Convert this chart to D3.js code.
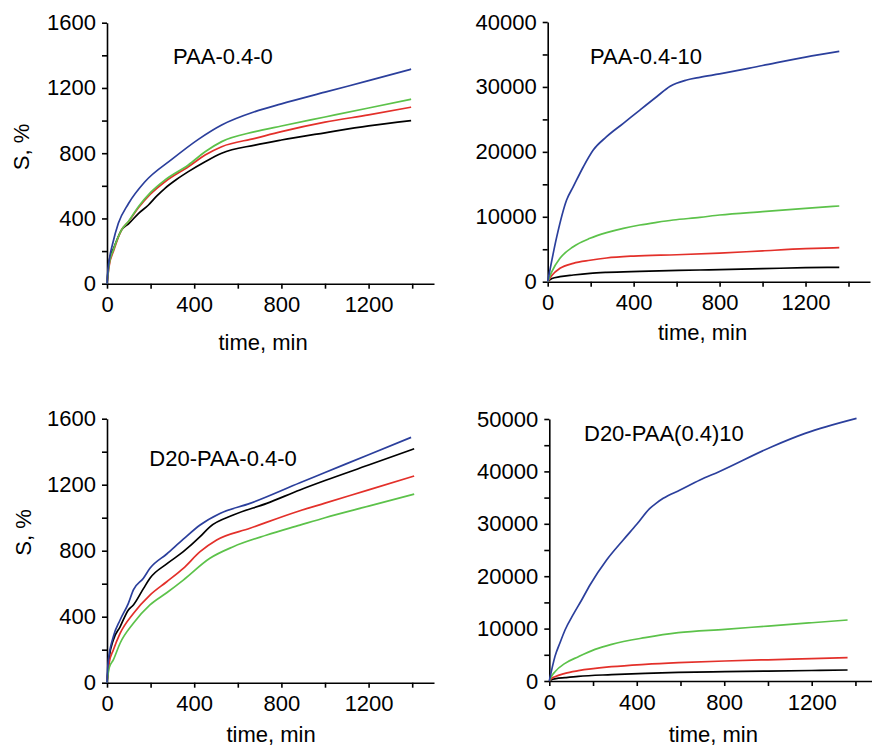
<!DOCTYPE html>
<html><head><meta charset="utf-8">
<script src="https://cdn.jsdelivr.net/npm/d3@7"></script>
<style>
html,body{margin:0;padding:0;background:#fff;}
svg text{font-family:"Liberation Sans",Arial,sans-serif;fill:#000;}
</style></head>
<body><svg id="c" width="872" height="747"></svg>
<script>
// ---------- DATA ----------
const panelTitles = ["PAA-0.4-0", "PAA-0.4-10", "D20-PAA-0.4-0", "D20-PAA(0.4)10"];
const seriesColors = ["#2b3f9c", "#5cc24a", "#e3302a", "#000000"]; // blue, green, red, black
const xMajorTicks = [0, 400, 800, 1200];
const xMinorTicks = [200, 600, 1000, 1400];
const yTicksSmall = [0, 400, 800, 1200, 1600];
const yTicksP2 = [0, 10000, 20000, 30000, 40000];
const yTicksP4 = [0, 10000, 20000, 30000, 40000, 50000];
const xLabel = "time, min";
const yLabel = "S, %";

// Panel 1: PAA-0.4-0
const p1BlueT  = [0,5,12,25,52,98,174,297,419,526,679,800,1000,1200,1395];
const p1BlueS  = [0,90,160,240,370,490,625,762,885,973,1055,1102,1174,1245,1315];
const p1GreenT = [0,10,30,67,100,144,200,266,373,450,526,679,800,1000,1200,1395];
const p1GreenS = [0,120,210,330,385,472,560,636,728,809,871,932,967,1022,1077,1131];
const p1RedT   = [0,10,30,67,100,144,200,266,373,450,526,679,800,1000,1200,1395];
const p1RedS   = [0,110,200,330,383,465,550,625,717,789,840,891,932,990,1035,1082];
const p1BlackT = [0,10,30,67,100,144,189,230,266,320,373,450,526,679,800,1000,1200,1395];
const p1BlackS = [0,140,215,330,368,430,481,540,585,640,687,748,800,850,881,925,967,1000];

// Panel 2: PAA-0.4-10
const p2BlueT  = [0,42,88,119,166,212,274,352,429,507,570,647,708,800,1000,1200,1357];
const p2BlueS  = [0,6900,12580,14630,17710,20280,22330,24390,26440,28490,30100,31060,31480,32000,33300,34600,35480];
const p2GreenT = [0,20,57,119,197,274,352,429,507,584,708,800,1000,1200,1357];
const p2GreenS = [0,1600,3600,5390,6680,7550,8220,8730,9140,9500,9910,10270,10800,11300,11660];
const p2RedT   = [0,20,57,119,197,274,400,600,800,1000,1200,1357];
const p2RedS   = [0,1000,2060,2830,3300,3650,3950,4150,4400,4750,5080,5240];
const p2BlackT = [0,20,57,119,197,274,429,708,1000,1200,1357];
const p2BlackS = [0,500,770,1030,1290,1440,1600,1800,2000,2160,2210];

// Panel 3: D20-PAA-0.4-0
const p3BlueT  = [0,5,29,60,98,121,167,197,274,350,427,518,656,885,1000,1200,1395];
const p3BlueS  = [0,120,279,380,481,562,633,693,780,870,956,1026,1087,1212,1274,1382,1487];
const p3GreenT = [0,10,29,60,121,197,274,350,472,579,733,885,1000,1200,1409];
const p3GreenS = [0,90,138,239,360,471,545,622,754,824,895,955,1000,1070,1143];
const p3RedT   = [0,10,29,60,121,197,274,350,427,503,656,885,1000,1200,1409];
const p3RedS   = [0,120,198,299,420,531,612,693,794,865,936,1042,1088,1169,1253];
const p3BlackT = [0,10,29,60,98,121,167,197,274,350,427,472,579,733,885,1000,1200,1409];
const p3BlackS = [0,150,259,339,441,471,570,633,720,794,885,945,1016,1087,1168,1225,1319,1418];

// Panel 4: D20-PAA(0.4)10
const p4BlueT  = [0,26,49,72,111,148,186,262,338,400,460,488,521,598,689,776,1018,1170,1405];
const p4BlueS  = [0,4700,7300,9730,12800,15460,18320,23090,26910,29900,32950,33900,34860,36450,38360,39950,44720,47260,50130];
const p4GreenT = [0,10,26,72,133,209,285,438,590,803,1000,1200,1364];
const p4GreenS = [0,900,1780,3370,4640,6040,7000,8270,9220,9860,10485,11120,11640];
const p4RedT   = [0,10,26,72,133,285,438,590,803,1000,1200,1364];
const p4RedS   = [0,450,830,1460,1970,2730,3180,3500,3820,4050,4280,4450];
const p4BlackT = [0,10,30,72,133,285,438,590,803,1000,1200,1364];
const p4BlackS = [0,250,450,640,890,1210,1460,1650,1780,1900,2000,2100];

// ---------- LAYOUT ----------
const panels = [
  {title: panelTitles[0], x0:107, x1:434, yb:283.7, yt:22.7, yMax:1600, yTicks:yTicksSmall,
   tx:173, ty:64, ylab:true, xlx:263, xly:350, ylx:29, yly:147,
   series:[[p1BlueT,p1BlueS],[p1GreenT,p1GreenS],[p1RedT,p1RedS],[p1BlackT,p1BlackS]]},
  {title: panelTitles[1], x0:547.7, x1:870, yb:281.7, yt:22, yMax:40000, yTicks:yTicksP2,
   tx:590, ty:63.5, ylab:false, xlx:702.5, xly:340,
   series:[[p2BlueT,p2BlueS],[p2GreenT,p2GreenS],[p2RedT,p2RedS],[p2BlackT,p2BlackS]]},
  {title: panelTitles[2], x0:107, x1:434, yb:682.7, yt:418.7, yMax:1600, yTicks:yTicksSmall,
   tx:149.3, ty:466, ylab:true, xlx:271, xly:742, ylx:31, yly:532.5,
   series:[[p3BlueT,p3BlueS],[p3GreenT,p3GreenS],[p3RedT,p3RedS],[p3BlackT,p3BlackS]]},
  {title: panelTitles[3], x0:549.3, x1:877.3, yb:681, yt:419, yMax:50000, yTicks:yTicksP4,
   tx:584, ty:441, ylab:false, xlx:713.3, xly:742,
   series:[[p4BlueT,p4BlueS],[p4GreenT,p4GreenS],[p4RedT,p4RedS],[p4BlackT,p4BlackS]]}
];

const svg = d3.select("#c");
const FS = 22;

panels.forEach(p => {
  const g = svg.append("g");
  const x = d3.scaleLinear().domain([0,1500]).range([p.x0, p.x1]);
  const y = d3.scaleLinear().domain([0,p.yMax]).range([p.yb, p.yt]);
  const step = p.yTicks[1] - p.yTicks[0];
  const yMinor = d3.range(step/2, p.yMax, step);

  g.append("g").attr("transform",`translate(0,${p.yb})`)
    .call(d3.axisBottom(x).tickValues(xMinorTicks).tickSize(5).tickFormat(""))
    .call(a=>a.select(".domain").remove());
  g.append("g").attr("transform",`translate(${p.x0},0)`)
    .call(d3.axisLeft(y).tickValues(yMinor).tickSize(5).tickFormat(""))
    .call(a=>a.select(".domain").remove());

  const xa = g.append("g").attr("transform",`translate(0,${p.yb})`)
    .call(d3.axisBottom(x).tickValues(xMajorTicks).tickSize(5).tickSizeOuter(0).tickPadding(8).tickFormat(d3.format("d")));
  const ya = g.append("g").attr("transform",`translate(${p.x0},0)`)
    .call(d3.axisLeft(y).tickValues(p.yTicks).tickSize(5).tickSizeOuter(0).tickPadding(6).tickFormat(d3.format("d")));
  [xa, ya].forEach(a => {
    a.selectAll("text").style("font-size", FS+"px");
    a.attr("font-family", null).attr("font-size", null);
    a.selectAll("line,path").attr("stroke","#000").attr("stroke-width",1.6);
  });
  g.selectAll(".tick line").attr("stroke","#000").attr("stroke-width",1.6);

  const line = d3.line().x(d=>x(d[0])).y(d=>y(d[1])).curve(d3.curveMonotoneX);
  [3,2,1,0].forEach(i => {
    const [tt, ss] = p.series[i];
    const pts = tt.map((t,k)=>[t, ss[k]]);
    g.append("path").datum(pts).attr("d", line)
      .attr("fill","none").attr("stroke", seriesColors[i]).attr("stroke-width",1.7);
  });

  g.append("text").attr("x",p.tx).attr("y",p.ty).style("font-size",FS+"px").text(p.title);
  g.append("text").attr("x",p.xlx).attr("y",p.xly).attr("text-anchor","middle")
    .style("font-size",FS+"px").text(xLabel);
  if (p.ylab) {
    g.append("text").attr("transform",`translate(${p.ylx},${p.yly}) rotate(-90)`)
      .attr("text-anchor","middle").style("font-size",FS+"px").text(yLabel);
  }
});
</script></body></html>
